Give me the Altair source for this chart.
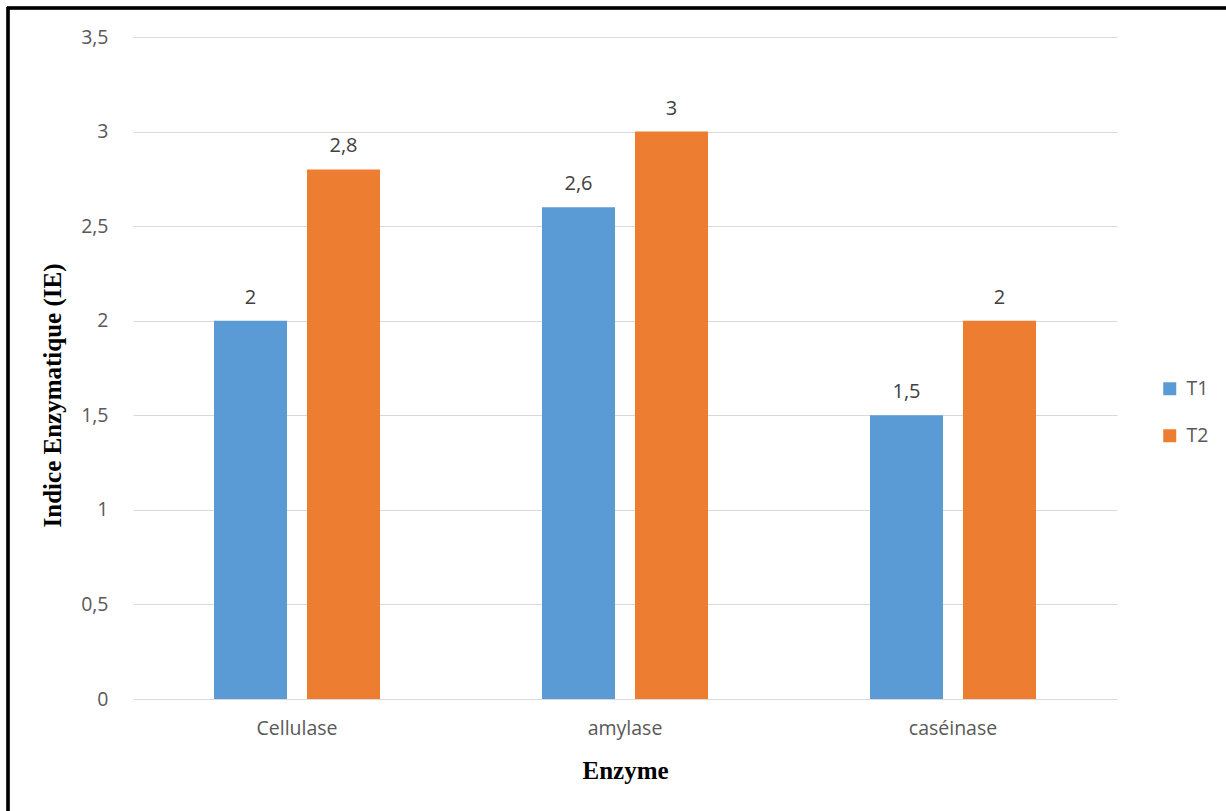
import altair as alt
import pandas as pd

enzymes = ["Cellulase", "amylase", "caséinase"]
series = ["T1", "T2"]
t1_values = [2, 2.6, 1.5]
t2_values = [2.8, 3, 2]
colors = ["#5B9BD5", "#ED7D31"]

rows = []
for e, v in zip(enzymes, t1_values):
    rows.append({"Enzyme": e, "Serie": "T1", "IE": v, "label": str(v).replace(".", ",")})
for e, v in zip(enzymes, t2_values):
    rows.append({"Enzyme": e, "Serie": "T2", "IE": v, "label": str(v).replace(".", ",")})
df = pd.DataFrame(rows)

W, H = 984, 662
FONT = "Open Sans"

x_enc = alt.X(
    "Enzyme:N",
    sort=enzymes,
    scale=alt.Scale(paddingInner=0, paddingOuter=0),
    axis=alt.Axis(
        title="Enzyme",
        labelAngle=0,
        ticks=False,
        domain=False,
        labelPadding=20,
        labelFont=FONT,
        labelFontSize=19.5,
        labelColor="#595959",
        titleFont="Liberation Serif",
        titleFontSize=25,
        titleFontWeight="bold",
        titleColor="#000000",
        titleX=W / 2,
        titleY=71,
        titleBaseline="middle",
    ),
)
xoff_enc = alt.XOffset(
    "Serie:N", sort=series, scale=alt.Scale(paddingInner=0.215, paddingOuter=0.871)
)
y_enc = alt.Y(
    "IE:Q",
    scale=alt.Scale(domain=[0, 3.5], nice=False),
    axis=alt.Axis(
        title="Indice Enzymatique (IE)",
        values=[0, 0.5, 1, 1.5, 2, 2.5, 3, 3.5],
        labelExpr="replace(toString(datum.value), '.', ',')",
        ticks=False,
        domain=False,
        grid=True,
        gridColor="#D9D9D9",
        gridWidth=1.2,
        labelPadding=25,
        labelFont=FONT,
        labelFontSize=19.5,
        labelColor="#595959",
        titleFont="Liberation Serif",
        titleFontSize=25,
        titleFontWeight="bold",
        titleColor="#000000",
        titleAngle=-90,
        titleX=-81,
        titleY=358,
        titleBaseline="middle",
        titleAlign="center",
    ),
)

base = alt.Chart(df)

bars = base.mark_bar().encode(
    x=x_enc,
    xOffset=xoff_enc,
    y=y_enc,
    color=alt.Color(
        "Serie:N",
        sort=series,
        scale=alt.Scale(domain=series, range=colors),
        legend=alt.Legend(
            title=None,
            orient="none",
            legendX=1027,
            legendY=342,
            symbolType="square",
            symbolSize=169,
            symbolStrokeWidth=0,
            labelFont=FONT,
            labelFontSize=19.5,
            labelColor="#595959",
            labelOffset=7,
            rowPadding=26,
            padding=0,
        ),
    ),
)

labels = base.mark_text(
    baseline="alphabetic", dy=-17, font=FONT, fontSize=20, color="#404040"
).encode(
    x=alt.X("Enzyme:N", sort=enzymes),
    xOffset=alt.XOffset("Serie:N", sort=series),
    y=alt.Y("IE:Q"),
    text="label:N",
)

frame_left = alt.Chart(df).mark_rule(color="#000000", strokeWidth=2.5).encode(
    x=alt.value(-125), y=alt.value(-30), y2=alt.value(780)
)
frame_top = alt.Chart(df).mark_rule(color="#000000", strokeWidth=2.5).encode(
    x=alt.value(-126), x2=alt.value(1100), y=alt.value(-29)
)

chart = (
    alt.layer(bars, labels, frame_left, frame_top)
    .properties(
        width=W,
        height=H,
        autosize=alt.AutoSizeParams(type="none"),
        padding={"left": 133, "top": 37, "right": 109, "bottom": 112},
        background="#FFFFFF",
    )
    .configure_view(stroke=None)
)

chart.save("out.html", embed_options={"renderer": "svg", "actions": False})
